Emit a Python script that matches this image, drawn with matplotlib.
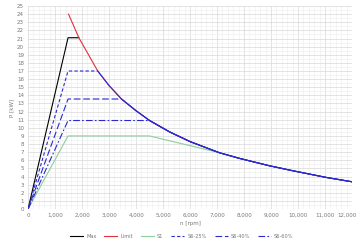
import matplotlib
matplotlib.use("Agg")
import matplotlib.pyplot as plt
import matplotlib.transforms as mtransforms
from matplotlib.ticker import MultipleLocator, FuncFormatter

# Limit curve (n [rpm], P [kW])
limit_n = [1500, 1880, 2000, 2580, 3000, 3460, 4000, 4500, 5240, 6000, 7085, 7823, 8930, 9790, 11022, 12000]
limit_p = [24.0, 21.1, 20.4, 17.0, 15.2, 13.55, 12.1, 10.9, 9.5, 8.3, 6.93, 6.24, 5.33, 4.72, 3.9, 3.35]

max_n = [0, 1480, 1880]
max_p = [0, 21.1, 21.1]

s1_n = [0, 1480, 4500, 5240, 6000, 7085]
s1_p = [0, 9.0, 9.0, 8.4, 7.8, 6.93]

s25_n = [0, 1480, 2580]
s25_p = [0, 17.0, 17.0]
s40_n = [0, 1480, 3460]
s40_p = [0, 13.55, 13.55]
s60_n = [0, 1480, 4500]
s60_p = [0, 10.9, 10.9]

def tail(n0):
    ns = [n for n in limit_n if n > n0]
    ps = [p for n, p in zip(limit_n, limit_p) if n > n0]
    return ns, ps

fig = plt.figure(figsize=(3.6, 2.43), dpi=100)
ax = fig.add_axes([0.078, 0.14, 0.9, 0.835])

blue = "#2a2ad0"
lw = 0.8
ax.plot(max_n, max_p, color="black", lw=lw, label="Max")
ax.plot(limit_n, limit_p, color="#e0303a", lw=lw, label="Limit")
tn, tp = tail(s1_n[-1])
ax.plot(s1_n + tn, s1_p + tp, color="#8ccf9a", lw=lw, label="S1")

for ns, ps, ls, lab in [(s25_n, s25_p, (0, (3, 2)), "S6-25%"),
                        (s40_n, s40_p, (0, (6, 2.5)), "S6-40%"),
                        (s60_n, s60_p, (0, (6, 2, 1.5, 2)), "S6-60%")]:
    ax.plot(ns, ps, color=blue, lw=lw, ls=ls, label=lab)
    tn, tp = tail(ns[-1])
    ax.plot([ns[-1]] + tn, [ps[-1]] + tp, color=blue, lw=lw)

ax.set_xlim(0, 12000)
ax.set_ylim(0, 25)
ax.xaxis.set_major_locator(MultipleLocator(1000))
ax.xaxis.set_minor_locator(MultipleLocator(200))
ax.yaxis.set_major_locator(MultipleLocator(1))
ax.yaxis.set_minor_locator(MultipleLocator(0.5))
ax.xaxis.set_major_formatter(FuncFormatter(lambda v, p: f"{int(v):,}"))
ax.grid(which="major", color="#d8d8d8", lw=0.5)
ax.grid(which="minor", color="#ececec", lw=0.4)
ax.set_axisbelow(True)
for s in ax.spines.values():
    s.set_visible(False)
ax.tick_params(which="both", length=0, labelsize=4, labelcolor="#777777", pad=3)
ax.set_xlabel("n [rpm]", fontsize=4, color="#777777", labelpad=2)
ax.set_ylabel("P [kW]", fontsize=4, color="#777777", labelpad=2)

handles, labels = ax.get_legend_handles_labels()
fig.legend(handles, labels, loc="lower center", bbox_to_anchor=(0.505, 0.0), ncol=6,
           fontsize=3.6, frameon=False, handlelength=2.6, handletextpad=0.6,
           columnspacing=1.6, labelcolor="#777777")

fig.canvas.draw()
shift = mtransforms.ScaledTranslation(-5 / 100, 0, fig.dpi_scale_trans)
for t in ax.get_xticklabels():
    if t.get_text() == "12,000":
        t.set_transform(t.get_transform() + shift)

fig.savefig("out.png", dpi=100)
